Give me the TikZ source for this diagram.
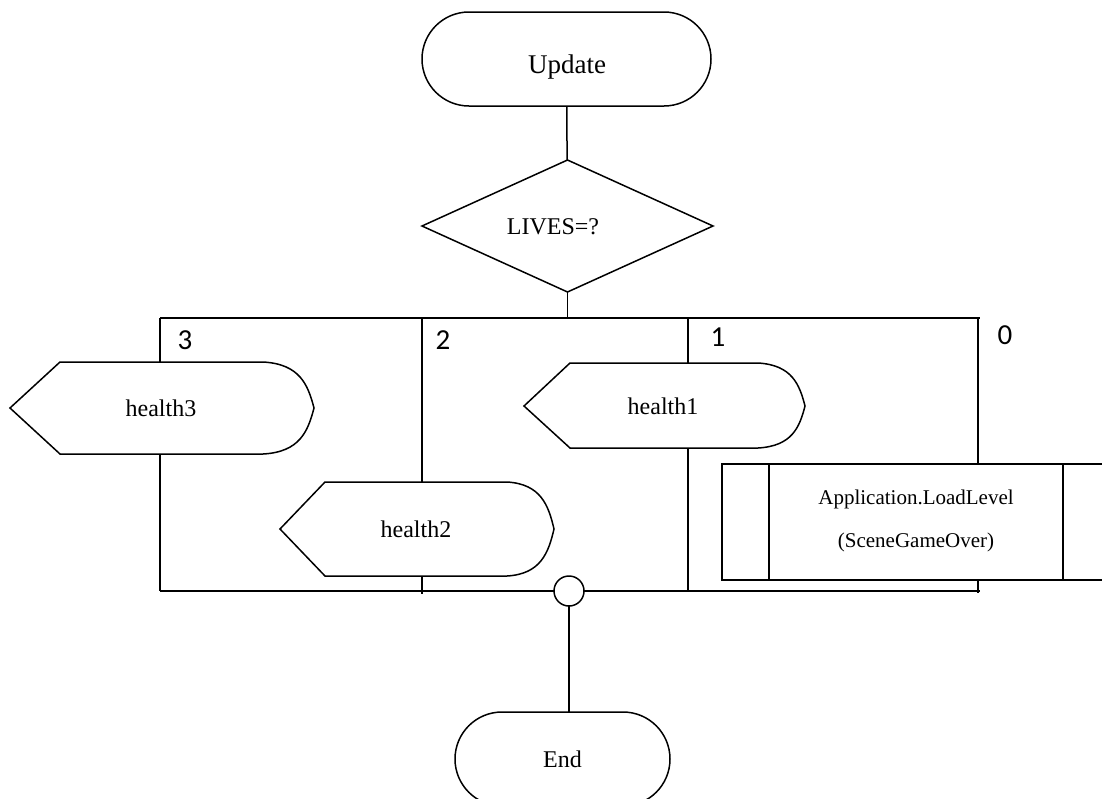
\documentclass[tikz,border=0pt]{standalone}
\usepackage{fontspec}
\setmainfont{Liberation Serif}
\newfontfamily\casefont{Carlito}
\usetikzlibrary{shapes.geometric,shapes.misc}
\begin{document}
\begin{tikzpicture}[x=1pt,y=-1pt,
  line width=1.5pt, line join=miter,
  every node/.style={inner sep=0pt, outer sep=0pt},
  terminal/.style={draw, rounded rectangle, minimum width=#1, minimum height=94pt},
  decision/.style={draw, diamond, minimum width=291pt, minimum height=132pt},
  joint/.style={draw, circle, minimum size=30pt, fill=white},
  txt/.style={font=\fontsize{24}{28}\selectfont},
  bigtxt/.style={font=\fontsize{27}{32}\selectfont},
  boxtxt/.style={font=\fontsize{21}{43}\selectfont, align=center},
  case/.style={font=\casefont\fontsize{29}{33}\selectfont},
  flow/.style={draw},
  shapeline/.style={draw}
]
\useasboundingbox (0,0) rectangle (1102,798);
\clip (0,0) rectangle (1102,798);

% start, decision
\node[terminal=289pt] (update) at (566.5,59) {};
\node[bigtxt] (updatetxt) at (567,67) {Update};
\node[decision] (lives) at (567.5,226) {};
\node[txt] (livestxt) at (553,227) {LIVES=?};

% case bus (top) and merge bus (bottom)
\coordinate (busTL) at (160,318);
\coordinate (busTR) at (980,318);
\coordinate (busBL) at (160,591);
\coordinate (busBR) at (980,591);
\node[joint] (merge) at (569,591) {};

% display shapes
\path[shapeline] (60,362) -- (263,362)
  .. controls (300,364) and (308,385) .. (314,408)
  .. controls (308,431) and (300,452) .. (263,454)
  -- (60,454) -- (10,408) -- cycle;
\node[txt] (health3) at (161,408) {health3};
\coordinate (h3top) at (160,362);
\coordinate (h3bot) at (160,454);

\path[shapeline] (325,482) -- (507,482)
  .. controls (541,484) and (548.5,505.5) .. (554,529)
  .. controls (548.5,552.5) and (541,574) .. (507,576)
  -- (325,576) -- (280,529) -- cycle;
\node[txt] (health2) at (416,529) {health2};
\coordinate (h2top) at (422,482);
\coordinate (h2bot) at (422,576);

\path[shapeline] (570,363) -- (758,363)
  .. controls (792,365) and (799.5,384.5) .. (805,406)
  .. controls (799.5,427.5) and (792,446) .. (758,448)
  -- (570,448) -- (524,406) -- cycle;
\node[txt] (health1) at (663,406) {health1};
\coordinate (h1top) at (688,363);
\coordinate (h1bot) at (688,448);

% predefined process
\node[draw, rectangle, anchor=north west, minimum width=390pt, minimum height=116pt] (gameover) at (722,464) {};
\draw (769,464) -- (769,580);
\draw (1063,464) -- (1063,580);
\node[boxtxt] (gameovertxt) at (916,521) {Application.LoadLevel\\(SceneGameOver)};
\coordinate (gotop) at (978,464);
\coordinate (gobot) at (978,580);

% end
\node[terminal=215pt, txt] (end) at (562.5,759) {End};

% connectors
\draw[flow] (update) -- (lives);
\draw[flow] (lives.south) -- (lives.south |- busTL);
\draw[flow] (busTL) -- (busTR);
\draw[flow] (busBL) -- (merge.west);
\draw[flow] (merge.east) -- (busBR);
\draw[flow] (merge.south) -- (merge.south |- end.north);

% case 3
\draw[flow] (busTL) -- (h3top);
\draw[flow] (h3bot) -- (busBL);
% case 2
\draw[flow] (busTL -| h2top) -- (h2top);
\draw[flow] (h2bot) -- ([yshift=-3pt]busBL -| h2bot);
% case 1
\draw[flow] (busTL -| h1top) -- (h1top);
\draw[flow] (h1bot) -- (busBL -| h1bot);
% case 0
\draw[flow] (busTL -| gotop) -- (gotop);
\draw[flow] (gobot) -- ([yshift=-2pt]busBL -| gobot);

% case values
\node[case] (c3) at (185,340) {3};
\node[case] (c2) at (443,340) {2};
\node[case] (c1) at (718,337) {1};
\node[case] (c0) at (1005,335) {0};
\end{tikzpicture}
\end{document}
